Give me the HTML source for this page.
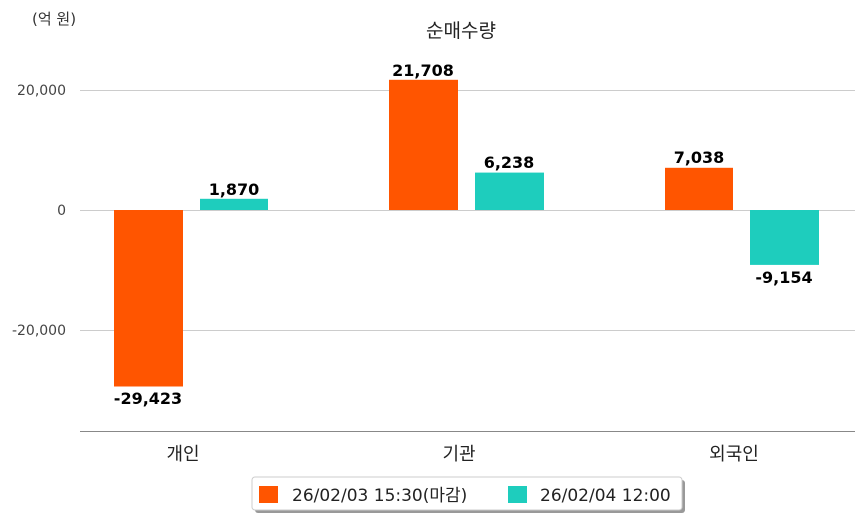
<!DOCTYPE html>
<html><head><meta charset="utf-8"><style>
body{margin:0;background:#fff;}
svg{display:block;font-family:"DejaVu Sans","Noto Sans CJK KR",sans-serif;}
</style></head><body>
<svg width="863" height="520" viewBox="0 0 863 520">
<rect width="863" height="520" fill="#fff"/>
<text x="32" y="24" font-size="15" fill="#333">(억 원)</text>
<text x="461" y="37" font-size="19" fill="#222" text-anchor="middle">순매수량</text>
<g stroke="#ccc" stroke-width="1">
<line x1="80" y1="90.5" x2="855" y2="90.5"/>
<line x1="80" y1="210.5" x2="855" y2="210.5"/>
<line x1="80" y1="330.5" x2="855" y2="330.5"/>
</g>
<line x1="80" y1="431.5" x2="855" y2="431.5" stroke="#888" stroke-width="1"/>
<g font-size="14" fill="#444" text-anchor="end">
<text x="66" y="95">20,000</text>
<text x="66" y="215">0</text>
<text x="66" y="335">-20,000</text>
</g>
<g fill="#ff5500">
<rect x="114" y="210" width="69" height="176.5"/>
<rect x="389" y="79.8" width="69" height="130.2"/>
<rect x="665" y="167.8" width="68" height="42.2"/>
</g>
<g fill="#1ecdbd">
<rect x="200" y="198.8" width="68" height="11.2"/>
<rect x="475" y="172.6" width="69" height="37.4"/>
<rect x="750" y="210" width="69" height="54.9"/>
</g>
<g font-size="16" fill="#000" text-anchor="middle" font-weight="bold">
<text x="148" y="404">-29,423</text>
<text x="234" y="195">1,870</text>
<text x="423" y="76">21,708</text>
<text x="509" y="168">6,238</text>
<text x="699" y="163">7,038</text>
<text x="784" y="283">-9,154</text>
</g>
<g font-size="18" fill="#222" text-anchor="middle">
<text x="183" y="460">개인</text>
<text x="459" y="460">기관</text>
<text x="734" y="460">외국인</text>
</g>
<rect x="255" y="480" width="430" height="33" rx="3" fill="#999"/>
<rect x="252" y="477" width="430" height="33" rx="3" fill="#fff" stroke="#ccc"/>
<rect x="259" y="486" width="19" height="17" fill="#ff5500"/>
<text x="292" y="501" font-size="17" fill="#222">26/02/03 15:30(마감)</text>
<rect x="508" y="486" width="19" height="17" fill="#1ecdbd"/>
<text x="540" y="501" font-size="17" fill="#222">26/02/04 12:00</text>
</svg>
</body></html>
